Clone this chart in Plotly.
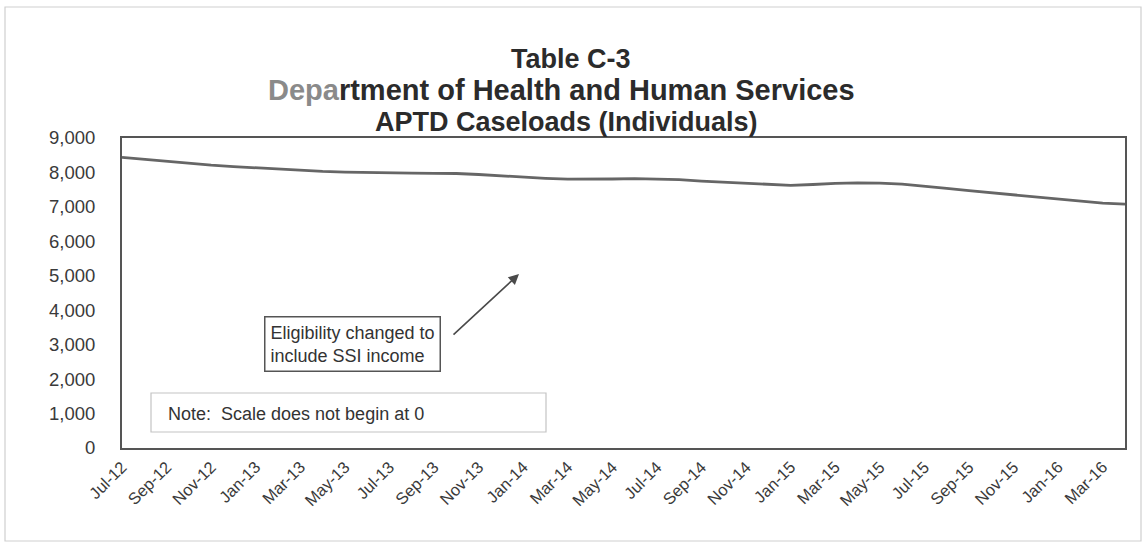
import plotly.graph_objects as go

months = ["Jul-12", "Aug-12", "Sep-12", "Oct-12", "Nov-12", "Dec-12",
          "Jan-13", "Feb-13", "Mar-13", "Apr-13", "May-13", "Jun-13",
          "Jul-13", "Aug-13", "Sep-13", "Oct-13", "Nov-13", "Dec-13",
          "Jan-14", "Feb-14", "Mar-14", "Apr-14", "May-14", "Jun-14",
          "Jul-14", "Aug-14", "Sep-14", "Oct-14", "Nov-14", "Dec-14",
          "Jan-15", "Feb-15", "Mar-15", "Apr-15", "May-15", "Jun-15",
          "Jul-15", "Aug-15", "Sep-15", "Oct-15", "Nov-15", "Dec-15",
          "Jan-16", "Feb-16", "Mar-16", "Apr-16"]

caseloads = [8440, 8380, 8320, 8260, 8210, 8170,
             8130, 8090, 8050, 8030, 8010, 7995,
             7990, 7980, 7975, 7970, 7940, 7900,
             7860, 7830, 7805, 7800, 7810, 7820,
             7815, 7790, 7750, 7715, 7680, 7640,
             7625, 7650, 7685, 7695, 7690, 7660,
             7610, 7540, 7470, 7410, 7350, 7290,
             7220, 7155, 7110, 7080]

tick_labels = months[::2]

y_ticks = [0, 1000, 2000, 3000, 4000, 5000, 6000, 7000, 8000, 9000]

title_line1 = "Table C-3"
title_line2 = "<span style='color:#8a8a8a'>Depa</span>rtment of Health and Human Services"
title_line3 = "APTD Caseloads (Individuals)"
callout_text = "Eligibility changed to<br>include SSI income"
note_text = "Note:  Scale does not begin at 0"

FONT = "Liberation Sans, Arial, sans-serif"
W, H = 1146, 550
L, R, T, B = 122, 21, 138, 102
PW, PH = W - L - R, H - T - B


def px_x(x):
    return (x - L) / PW


def px_y(y):
    return (H - B - y) / PH


fig = go.Figure()
fig.add_trace(go.Scatter(
    x=months, y=caseloads, mode="lines",
    line=dict(color="#666666", width=2.8),
    hoverinfo="x+y", showlegend=False,
))

fig.update_layout(
    width=W, height=H,
    margin=dict(l=L, r=R, t=T, b=B),
    paper_bgcolor="white", plot_bgcolor="white",
    font=dict(family=FONT, color="#3a3a3a"),
    xaxis=dict(
        type="category", range=[0, len(months) - 1],
        tickmode="array", tickvals=tick_labels, ticktext=tick_labels,
        tickangle=-45, tickfont=dict(size=16.5, color="#3a3a3a"),
        showgrid=False, zeroline=False,
        showline=True, linecolor="#555555", linewidth=2, mirror=True,
        ticks="", ticklabelstandoff=1,
    ),
    yaxis=dict(
        range=[0, 9000], tickmode="array", tickvals=y_ticks,
        tickformat=",", tickfont=dict(size=18.5, color="#3a3a3a"),
        showgrid=False, zeroline=False,
        showline=True, linecolor="#555555", linewidth=2, mirror=True,
        ticks="", ticklabelstandoff=21,
    ),
)

# Title (three lines)
for txt, cx, cy, sz in [(title_line1, 571, 59, 27),
                        (title_line2, 561, 90, 29),
                        (title_line3, 566, 122, 27)]:
    fig.add_annotation(
        text=txt, xref="paper", yref="paper",
        x=px_x(cx), y=px_y(cy), xanchor="center", yanchor="middle",
        showarrow=False, align="center",
        font=dict(family=FONT, size=sz, color="#2b2b2b", weight="bold"),
    )

# Callout box with arrow
fig.add_annotation(
    text=callout_text, xref="paper", yref="paper",
    x=px_x(352), y=px_y(344), xanchor="center", yanchor="middle",
    showarrow=False, align="left",
    font=dict(family=FONT, size=18, color="#333333"),
    bordercolor="#555555", borderwidth=1.5, borderpad=5,
    bgcolor="white",
)
fig.add_annotation(
    xref="paper", yref="paper", axref="pixel", ayref="pixel",
    x=px_x(519), y=px_y(274), ax=452 - 519, ay=336 - 274,
    text="", showarrow=True, arrowhead=2, arrowsize=1.3, arrowwidth=1.6,
    arrowcolor="#4a4a4a",
)

# Note box
fig.add_shape(
    type="rect", xref="paper", yref="paper",
    x0=px_x(151), x1=px_x(546), y0=px_y(432), y1=px_y(393),
    line=dict(color="#c4c4c4", width=1.2), fillcolor="rgba(0,0,0,0)",
)
fig.add_annotation(
    text=note_text, xref="paper", yref="paper",
    x=px_x(166), y=px_y(414), xanchor="left", yanchor="middle",
    showarrow=False, align="left",
    font=dict(family=FONT, size=18, color="#333333"),
)

# Outer faint frame
fig.add_shape(
    type="rect", xref="paper", yref="paper",
    x0=px_x(5), x1=px_x(1141), y0=px_y(541), y1=px_y(7),
    line=dict(color="#cfcfcf", width=1.2), fillcolor="rgba(0,0,0,0)",
    layer="below",
)

fig.write_html(
    "out.html",
    config={"displayModeBar": False},
    post_script="document.body.style.margin='0';document.body.style.overflow='hidden';",
)
